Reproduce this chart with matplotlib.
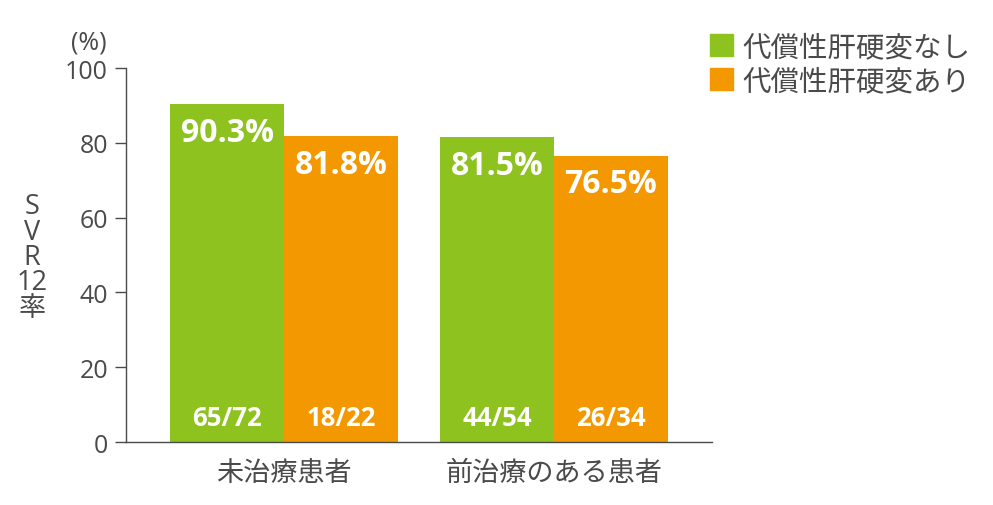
import matplotlib
matplotlib.use("Agg")
import matplotlib.pyplot as plt
from matplotlib.patches import Patch

plt.rcParams['font.family'] = ['Noto Sans CJK JP', 'DejaVu Sans']
latin = ['Open Sans', 'Noto Sans CJK JP']

categories = ['未治療患者', '前治療のある患者']
series_names = ['代償性肝硬変なし', '代償性肝硬変あり']
no_cirrhosis = [90.3, 81.5]
cirrhosis = [81.8, 76.5]
no_cirrhosis_n = ['65/72', '44/54']
cirrhosis_n = ['18/22', '26/34']

green = '#8dc21f'
orange = '#f39800'
text_col = '#4a4a4a'

fig = plt.figure(figsize=(9.93, 5.06), dpi=100)
ax = fig.add_axes([0.1269, 0.1245, 0.717 - 0.1269, 0.8636 - 0.1245])

w = 0.422
x = range(len(categories))
for i in x:
    ax.bar(i - w / 2, no_cirrhosis[i], width=w, color=green)
    ax.bar(i + w / 2, cirrhosis[i], width=w, color=orange)
    for dx, v, n in [(-w / 2, no_cirrhosis[i], no_cirrhosis_n[i]),
                     (w / 2, cirrhosis[i], cirrhosis_n[i])]:
        ax.text(i + dx, v - 7.5, f'{v:.1f}%', ha='center', va='center',
                color='white', fontsize=23, fontweight='bold', family=latin)
        ax.text(i + dx, 6.5, n, ha='center', va='center',
                color='white', fontsize=18.5, fontweight='bold', family=latin)

ax.set_xlim(-0.585, 1.585)
ax.set_ylim(0, 100)
ax.set_yticks([0, 20, 40, 60, 80, 100])
ax.set_yticklabels([str(t) for t in [0, 20, 40, 60, 80, 100]], family=latin)
ax.set_xticks(list(x))
ax.set_xticklabels(categories, fontsize=19.5, color=text_col)
ax.tick_params(axis='x', length=0, pad=12)
ax.tick_params(axis='y', length=8, width=1, color=text_col,
               labelsize=18, labelcolor=text_col, pad=5)
for s in ['top', 'right']:
    ax.spines[s].set_visible(False)
for s in ['left', 'bottom']:
    ax.spines[s].set_color(text_col)
    ax.spines[s].set_linewidth(1)

fig.text(89 / 993, 1 - 43 / 506, '(%)', ha='center', va='center',
         fontsize=18, color=text_col, family=latin)
fig.text(32 / 993, 1 - 258 / 506, 'S\nV\nR\n12\n率', ha='center', va='center',
         fontsize=19.5, color=text_col, linespacing=0.88, family=latin)

handles = [Patch(color=green), Patch(color=orange)]
fig.legend(handles, series_names, loc='upper left',
           bbox_to_anchor=(710 / 993, 1 - 33 / 506), frameon=False,
           fontsize=20.5, labelcolor=text_col, handlelength=0.8,
           handleheight=0.8, handletextpad=0.35, labelspacing=0.15,
           borderaxespad=0, borderpad=0)

fig.savefig('out.png', dpi=100)
